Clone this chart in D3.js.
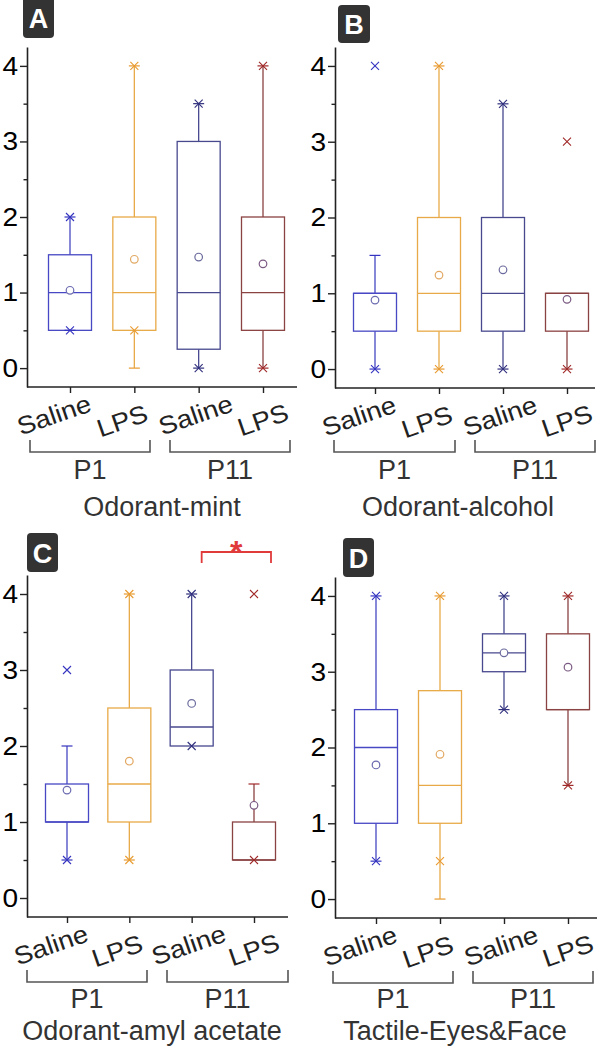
<!DOCTYPE html>
<html><head><meta charset="utf-8">
<script src="https://cdn.jsdelivr.net/npm/d3@7"></script>
<style>body{margin:0;background:#fff}svg{display:block}text{font-family:"Liberation Sans",Arial,sans-serif}</style>
</head><body><svg id="c" width="601" height="1050"></svg>
<script>
// ---------- DATA ----------
const panels = ["A","B","C","D"];
const titles = ["Odorant-mint","Odorant-alcohol","Odorant-amyl acetate","Tactile-Eyes&Face"];
const categories = ["Saline","LPS","Saline","LPS"];
const groups = ["P1","P11"];
const yTicks = [0,1,2,3,4];
const yMinorTicks = [0.5,1.5,2.5,3.5];
// per panel, per box (Saline P1, LPS P1, Saline P11, LPS P11)
const boxLow     = [[0.5,0.5,0.25,0.5],[0.5,0.5,0.5,0.5],[1,1,2,0.5],[1,1,3,2.5]];
const boxMedian  = [[1,1,1,1],[1,1,1,1],[1,1.5,2.25,0.5],[2,1.5,3.25,2.5]];
const boxHigh    = [[1.5,2,3,2],[1,2,2,1],[1.5,2.5,3,1],[2.5,2.75,3.5,3.5]];
const whiskerLow = [[0.5,0,0,0],[0,0,0,0],[0.5,0.5,2,0.5],[0.5,0,2.5,1.5]];
const whiskerHigh= [[2,4,3.5,4],[1.5,4,3.5,1],[2,4,4,1.5],[4,4,4,4]];
const means      = [[1.03,1.44,1.47,1.38],[0.91,1.24,1.31,0.92],[1.42,1.8,2.56,1.22],[1.77,1.91,3.25,3.06]];
const xMarks     = [[[2,0.5],[4,0.5],[3.5,0],[4,0]],
                    [[4,0],[4,0],[3.5,0],[3,0]],
                    [[3,0.5],[4,0.5],[4,2],[4,0.5]],
                    [[4,0.5],[4,0.5],[4,2.5],[4,1.5]]];
const capMarks   = [[[2,0.5],[4,0],[3.5,0],[4,0]],
                    [[1.5,0],[4,0],[3.5,0],[0]],
                    [[2,0.5],[4,0.5],[4],[1.5]],
                    [[4,0.5],[4,0],[4,2.5],[4,1.5]]];
const significance = [null,null,{from:2,to:3,label:"*"},null];

// ---------- STYLE / LAYOUT ----------
const boxColors    = ["#4848c4","#e8aa48","#48488f","#8b4242"];
const meanColors   = ["#6b6bb0","#e2a862","#6b6b9e","#7a5a82"];
const markerColors = ["#3434c0","#e89a30","#30307e","#a02828"];
const L = [
 {ax:27, top:47, xa:387, right:297, x0:70, x1:263, badge:[23,-3,31,41], bY:452, bUp:12, br:[[30,150],[170,290]], gY:479, tY:516, tX:162},
 {ax:335, top:47, xa:388, right:595, x0:375, x1:567, badge:[338,5,32,38], bY:452, bUp:12, br:[[334,455],[475,595]], gY:479, tY:516, tX:458},
 {ax:27, top:575, xa:917, right:288, x0:67, x1:254, badge:[27,533,31,39], bY:982, bUp:12, br:[[27,147],[167,288]], gY:1008, tY:1040, tX:152},
 {ax:335, top:577, xa:918, right:597, x0:376, x1:568, badge:[343,538,31,39], bY:983, bUp:12, br:[[333,453],[473,593]], gY:1008, tY:1040, tX:455}
];
const labDx = [-16,-12,-3,0], labDy = [28,34,28,33];
const BW = 43, CAP = 5.5, XM = 4, TSX = 1.08;

const svg = d3.select("#c");

panels.forEach((p, pi) => {
  const l = L[pi];
  const g = svg.append("g");
  const y = d3.scaleLinear().domain([-0.25, 4.25]).range([l.xa, l.top]);
  const x = d3.scalePoint().domain(d3.range(categories.length)).range([l.x0, l.x1]);

  // y axis
  const ya = g.append("g").attr("transform", `translate(${l.ax},0)`)
    .call(d3.axisLeft(y).tickValues(yTicks).tickSize(7).tickSizeOuter(0).tickPadding(4).tickFormat(d3.format("d")));
  ya.select(".domain").attr("stroke","#222").attr("stroke-width",1.6);
  ya.selectAll(".tick line").attr("stroke","#222").attr("stroke-width",1.4);
  ya.selectAll(".tick text").attr("font-size",26).attr("fill","#000")
    .attr("font-family",'"Liberation Sans",Arial,sans-serif')
    .attr("x", -9 / TSX).attr("transform", `scale(${TSX},1)`);
  g.append("g").attr("transform", `translate(${l.ax},0)`)
    .call(d3.axisLeft(y).tickValues(yMinorTicks).tickSize(3.5).tickFormat(""))
    .call(s => s.select(".domain").remove())
    .selectAll(".tick line").attr("stroke","#222").attr("stroke-width",1.4);

  // x axis
  g.append("line").attr("x1", l.ax).attr("x2", l.right).attr("y1", l.xa).attr("y2", l.xa)
    .attr("stroke","#222").attr("stroke-width",1.6);
  g.append("g").attr("transform", `translate(0,${l.xa})`)
    .call(d3.axisBottom(x).tickSize(6).tickFormat(""))
    .call(s => s.select(".domain").remove())
    .selectAll(".tick line").attr("stroke","#222").attr("stroke-width",1.4);

  // category labels
  categories.forEach((c, i) => {
    g.append("text").text(c)
      .attr("transform", `translate(${x(i)+labDx[i]},${l.xa+labDy[i]}) rotate(-19) scale(1.1,1)`)
      .attr("text-anchor","middle").attr("dominant-baseline","central")
      .attr("font-size",25).attr("fill","#222");
  });

  // group brackets
  groups.forEach((gr, gi) => {
    const [a,b] = l.br[gi];
    g.append("path").attr("d", `M${a},${l.bY-l.bUp}V${l.bY}H${b}V${l.bY-l.bUp}`)
      .attr("fill","none").attr("stroke","#555").attr("stroke-width",1.6);
    g.append("text").text(gr).attr("x",(a+b)/2).attr("y",l.gY)
      .attr("text-anchor","middle").attr("font-size",27).attr("fill","#333");
  });
  g.append("text").text(titles[pi]).attr("x",l.tX).attr("y",l.tY)
    .attr("text-anchor","middle").attr("font-size",27).attr("fill","#333");

  // badge
  const [bx,by,bw,bh] = l.badge;
  g.append("rect").attr("x",bx).attr("y",by).attr("width",bw).attr("height",bh).attr("rx",4).attr("fill","#333");
  g.append("text").text(p).attr("x",bx+bw/2).attr("y",by+bh/2+1).attr("text-anchor","middle")
    .attr("dominant-baseline","central").attr("font-size",27).attr("font-weight","bold").attr("fill","#fff");

  // boxes
  categories.forEach((c, i) => {
    const cx = x(i), col = boxColors[i];
    const bg = g.append("g").attr("stroke", col).attr("stroke-width",1.3).attr("fill","none");
    if (whiskerHigh[pi][i] > boxHigh[pi][i])
      bg.append("line").attr("x1",cx).attr("x2",cx).attr("y1",y(boxHigh[pi][i])).attr("y2",y(whiskerHigh[pi][i]));
    if (whiskerLow[pi][i] < boxLow[pi][i])
      bg.append("line").attr("x1",cx).attr("x2",cx).attr("y1",y(boxLow[pi][i])).attr("y2",y(whiskerLow[pi][i]));
    bg.append("rect").attr("x",cx-BW/2).attr("width",BW)
      .attr("y",y(boxHigh[pi][i])).attr("height",y(boxLow[pi][i])-y(boxHigh[pi][i]));
    bg.append("line").attr("x1",cx-BW/2).attr("x2",cx+BW/2).attr("y1",y(boxMedian[pi][i])).attr("y2",y(boxMedian[pi][i]));
    capMarks[pi][i].forEach(v => {
      g.append("line").attr("x1",cx-CAP).attr("x2",cx+CAP).attr("y1",y(v)).attr("y2",y(v))
        .attr("stroke",markerColors[i]).attr("stroke-width",1.2);
    });
    xMarks[pi][i].forEach(v => {
      g.append("path").attr("d",`M${cx-XM},${y(v)-XM}L${cx+XM},${y(v)+XM}M${cx-XM},${y(v)+XM}L${cx+XM},${y(v)-XM}`)
        .attr("stroke",markerColors[i]).attr("stroke-width",1.1).attr("fill","none");
    });
    g.append("circle").attr("cx",cx).attr("cy",y(means[pi][i])).attr("r",3.8)
      .attr("fill","#fff").attr("stroke",meanColors[i]).attr("stroke-width",1.2);
  });

  // significance
  const s = significance[pi];
  if (s) {
    const a = x(s.from)+10, b = x(s.to)+17, by2 = 552;
    g.append("path").attr("d",`M${a},${by2+11}V${by2}H${b}V${by2+11}`)
      .attr("fill","none").attr("stroke","#e03a3a").attr("stroke-width",1.8);
    g.append("text").text(s.label).attr("x",(a+b)/2).attr("y",by2+11).attr("text-anchor","middle")
      .attr("font-size",32).attr("font-weight","bold").attr("fill","#e03a3a");
  }
});
</script></body></html>
